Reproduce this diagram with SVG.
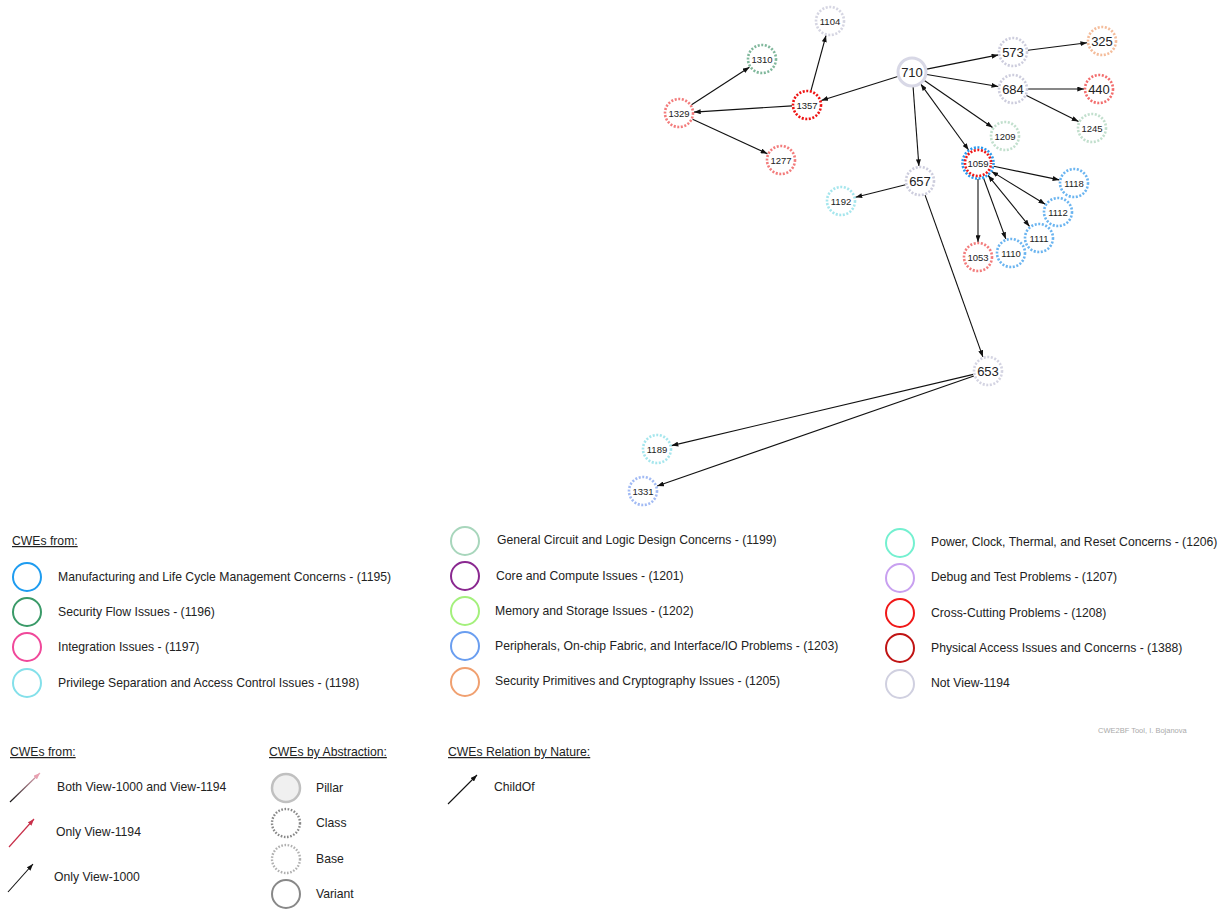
<svg xmlns="http://www.w3.org/2000/svg" width="1218" height="909" viewBox="0 0 1218 909">
<defs>
<marker id="ah" viewBox="0 0 8 6" refX="8" refY="3" markerWidth="7" markerHeight="5" markerUnits="userSpaceOnUse" orient="auto-start-reverse">
<path d="M0,0 L8,3 L0,6 Z" fill="#111"/>
</marker>
<marker id="ahr" viewBox="0 0 8 6" refX="8" refY="3" markerWidth="7" markerHeight="5" markerUnits="userSpaceOnUse" orient="auto">
<path d="M0,0 L8,3 L0,6 Z" fill="#c8304a"/>
</marker>
<marker id="ahp" viewBox="0 0 8 6" refX="8" refY="3" markerWidth="7" markerHeight="5" markerUnits="userSpaceOnUse" orient="auto">
<path d="M0,0 L8,3 L0,6 Z" fill="#e8a0b0"/>
</marker>
<linearGradient id="both" x1="10" y1="802" x2="40" y2="773" gradientUnits="userSpaceOnUse">
<stop offset="0" stop-color="#111"/>
<stop offset="1" stop-color="#f0b0c0"/>
</linearGradient>
</defs>
<style>
text{font-family:"Liberation Sans",Arial,sans-serif;fill:#222}
.n3{font-size:13px;text-anchor:middle;dominant-baseline:central}
.n4{font-size:9.5px;text-anchor:middle;dominant-baseline:central}
.dot{fill:#fff;stroke-width:2.6;stroke-dasharray:2 1.6}
.base{opacity:0.7}
.lg{font-size:12.2px}
.hd{font-size:12.2px;text-decoration:underline}
.lc{fill:none;stroke-width:2}
.e{stroke:#111;stroke-width:1.1;fill:none;marker-end:url(#ah)}
</style>
<rect width="1218" height="909" fill="#fff"/>

<g id="connectors">
<line class="e" x1="897.7" y1="76.5" x2="821.3" y2="100.5"/>
<line class="e" x1="811" y1="90.5" x2="826" y2="35.5"/>
<line class="e" x1="792" y1="105.9" x2="694" y2="112.1"/>
<line class="e" x1="691.6" y1="104.8" x2="749.4" y2="67.2"/>
<line class="e" x1="692.6" y1="119.3" x2="767.4" y2="153.7"/>
<line class="e" x1="926.7" y1="69.1" x2="998.3" y2="54.9"/>
<line class="e" x1="1027.9" y1="50.2" x2="1087.1" y2="42.8"/>
<line class="e" x1="926.8" y1="74.5" x2="998.2" y2="86.5"/>
<line class="e" x1="1028" y1="89" x2="1084" y2="89"/>
<line class="e" x1="1026.5" y1="95.6" x2="1078.5" y2="121.4"/>
<line class="e" x1="924.4" y1="80.5" x2="992.6" y2="127.5"/>
<line class="e" x1="920.8" y1="84.1" x2="968.6" y2="150" marker-start="url(#ah)"/>
<line class="e" x1="913.1" y1="87" x2="918.9" y2="166"/>
<line class="e" x1="905.5" y1="184.7" x2="855.5" y2="197.3"/>
<line class="e" x1="925.1" y1="195.1" x2="982.9" y2="356.9"/>
<line class="e" x1="973.4" y1="374.4" x2="671.6" y2="445.6"/>
<line class="e" x1="973.8" y1="375.9" x2="657.2" y2="486.1"/>
<line class="e" x1="993.7" y1="166.3" x2="1059.3" y2="179.9"/>
<line class="e" x1="991.6" y1="171.4" x2="1045.2" y2="204.2" marker-start="url(#ah)"/>
<line class="e" x1="988.1" y1="175.4" x2="1029.5" y2="226.4" marker-start="url(#ah)"/>
<line class="e" x1="983.5" y1="178" x2="1005.8" y2="238.9"/>
<line class="e" x1="978" y1="179" x2="978" y2="242"/>
</g>

<g id="n710"><circle cx="912" cy="72" r="14" fill="#fff" stroke="#d8d8e6" stroke-width="3"/><text class="n3" x="912" y="72">710</text></g>
<g id="n1357"><circle class="dot" cx="807" cy="105" r="14" stroke="#ee1111"/><text class="n4" x="807" y="105">1357</text></g>
<g id="n1104"><circle class="dot base" cx="830" cy="21" r="14" stroke="#c4c4d6"/><text class="n4" x="830" y="21">1104</text></g>
<g id="n1329"><circle class="dot base" cx="679" cy="113" r="14" stroke="#ee4444"/><text class="n4" x="679" y="113">1329</text></g>
<g id="n1310"><circle class="dot base" cx="762" cy="59" r="14" stroke="#4a9a72"/><text class="n4" x="762" y="59">1310</text></g>
<g id="n1277"><circle class="dot base" cx="781" cy="160" r="14" stroke="#ee4444"/><text class="n4" x="781" y="160">1277</text></g>
<g id="n573"><circle class="dot" cx="1013" cy="52" r="14" stroke="#cdcddd"/><text class="n3" x="1013" y="52">573</text></g>
<g id="n325"><circle class="dot base" cx="1102" cy="41" r="14" stroke="#f0a070"/><text class="n3" x="1102" y="41">325</text></g>
<g id="n684"><circle class="dot" cx="1013" cy="89" r="14" stroke="#cdcddd"/><text class="n3" x="1013" y="89">684</text></g>
<g id="n440"><circle class="dot base" cx="1099" cy="89" r="14" stroke="#ee3030"/><text class="n3" x="1099" y="89">440</text></g>
<g id="n1245"><circle class="dot base" cx="1092" cy="128" r="14" stroke="#a8d2b8"/><text class="n4" x="1092" y="128">1245</text></g>
<g id="n1209"><circle class="dot base" cx="1005" cy="136" r="14" stroke="#a8d2b8"/><text class="n4" x="1005" y="136">1209</text></g>
<g id="n1059"><circle class="dot" cx="978" cy="163" r="15.5" stroke="#2a9af0" stroke-dasharray="2.2 2.2"/><circle class="dot" cx="978" cy="163" r="13" stroke="#f01818" fill="none" stroke-dasharray="2 2.2" stroke-dashoffset="1"/><text class="n4" x="978" y="163">1059</text></g>
<g id="n657"><circle class="dot" cx="920" cy="181" r="14" stroke="#cdcddd"/><text class="n3" x="920" y="181">657</text></g>
<g id="n1192"><circle class="dot base" cx="841" cy="201" r="14" stroke="#80dce6"/><text class="n4" x="841" y="201">1192</text></g>
<g id="n653"><circle class="dot" cx="988" cy="371" r="14" stroke="#d4d4e2"/><text class="n3" x="988" y="371">653</text></g>
<g id="n1189"><circle class="dot base" cx="657" cy="449" r="14" stroke="#80dce6"/><text class="n4" x="657" y="449">1189</text></g>
<g id="n1331"><circle class="dot base" cx="643" cy="491" r="14" stroke="#7a9ef0"/><text class="n4" x="643" y="491">1331</text></g>
<g id="n1118"><circle class="dot" cx="1074" cy="183" r="14" stroke="#6ab4f0"/><text class="n4" x="1074" y="183">1118</text></g>
<g id="n1112"><circle class="dot" cx="1058" cy="212" r="14" stroke="#6ab4f0"/><text class="n4" x="1058" y="212">1112</text></g>
<g id="n1111"><circle class="dot" cx="1039" cy="238" r="14" stroke="#6ab4f0"/><text class="n4" x="1039" y="238">1111</text></g>
<g id="n1110"><circle class="dot" cx="1011" cy="253" r="14" stroke="#6ab4f0"/><text class="n4" x="1011" y="253">1110</text></g>
<g id="n1053"><circle class="dot base" cx="978" cy="257" r="14" stroke="#ee4444"/><text class="n4" x="978" y="257">1053</text></g>

<g id="legend-categories">
<text class="hd" x="12" y="545">CWEs from:</text>
<circle class="lc" cx="27" cy="577" r="14" stroke="#1e9cf0"/><text class="lg" x="58" y="581">Manufacturing and Life Cycle Management Concerns - (1195)</text>
<circle class="lc" cx="27" cy="612" r="14" stroke="#3a9a68"/><text class="lg" x="58" y="616">Security Flow Issues - (1196)</text>
<circle class="lc" cx="27" cy="647" r="14" stroke="#f0489a"/><text class="lg" x="58" y="651">Integration Issues - (1197)</text>
<circle class="lc" cx="27" cy="683" r="14" stroke="#84e0ea"/><text class="lg" x="58" y="687">Privilege Separation and Access Control Issues - (1198)</text>

<circle class="lc" cx="465" cy="541" r="14" stroke="#a8d6bc"/><text class="lg" x="497" y="544">General Circuit and Logic Design Concerns - (1199)</text>
<circle class="lc" cx="465" cy="576" r="14" stroke="#8a2890"/><text class="lg" x="496" y="580">Core and Compute Issues - (1201)</text>
<circle class="lc" cx="465" cy="611" r="14" stroke="#a4f07c"/><text class="lg" x="495" y="615">Memory and Storage Issues - (1202)</text>
<circle class="lc" cx="465" cy="646" r="14" stroke="#6a9ef0"/><text class="lg" x="495" y="650">Peripherals, On-chip Fabric, and Interface/IO Problems - (1203)</text>
<circle class="lc" cx="465" cy="682" r="14" stroke="#f0a070"/><text class="lg" x="495" y="685">Security Primitives and Cryptography Issues - (1205)</text>

<circle class="lc" cx="900" cy="543" r="14" stroke="#74f0d0"/><text class="lg" x="931" y="546">Power, Clock, Thermal, and Reset Concerns - (1206)</text>
<circle class="lc" cx="900" cy="578" r="14" stroke="#c8a0f0"/><text class="lg" x="931" y="581">Debug and Test Problems - (1207)</text>
<circle class="lc" cx="900" cy="613" r="14" stroke="#f01818"/><text class="lg" x="931" y="617">Cross-Cutting Problems - (1208)</text>
<circle class="lc" cx="900" cy="648" r="14" stroke="#c01414"/><text class="lg" x="931" y="652">Physical Access Issues and Concerns - (1388)</text>
<circle class="lc" cx="900" cy="684" r="14" stroke="#d0d0e0"/><text class="lg" x="931" y="687">Not View-1194</text>

<text x="1098" y="733" style="font-size:7.5px;fill:#aaa">CWE2BF Tool,  I. Bojanova</text>
</g>

<g id="legend-views">
<text class="hd" x="10" y="756">CWEs from:</text>
<line x1="10" y1="802" x2="40" y2="773" stroke="url(#both)" stroke-width="1.2" marker-end="url(#ahp)"/>
<text class="lg" x="57" y="791">Both View-1000 and View-1194</text>
<line x1="9" y1="847" x2="34" y2="819" stroke="#c8304a" stroke-width="1.2" marker-end="url(#ahr)"/>
<text class="lg" x="56" y="836">Only View-1194</text>
<line x1="8" y1="892" x2="33" y2="864" class="e"/>
<text class="lg" x="54" y="881">Only View-1000</text>
</g>

<g id="legend-abstraction">
<text class="hd" x="269" y="756">CWEs by Abstraction:</text>
<circle cx="286" cy="788" r="14" fill="#f0f0f0" stroke="#c0c0c0" stroke-width="2.5"/>
<text class="lg" x="316" y="792">Pillar</text>
<circle cx="286" cy="823" r="14" fill="none" stroke="#888" stroke-width="2.4" stroke-dasharray="1.6 1.6"/>
<text class="lg" x="316" y="827">Class</text>
<circle cx="286" cy="859" r="14" fill="none" stroke="#b0b0b0" stroke-width="2.4" stroke-dasharray="1.6 1.6"/>
<text class="lg" x="316" y="863">Base</text>
<circle cx="286" cy="894" r="14" fill="none" stroke="#888" stroke-width="2"/>
<text class="lg" x="316" y="898">Variant</text>
</g>

<g id="legend-relation">
<text class="hd" x="448" y="756">CWEs Relation by Nature:</text>
<line x1="448" y1="804" x2="477" y2="775" class="e"/>
<text class="lg" x="494" y="791">ChildOf</text>
</g>
</svg>
